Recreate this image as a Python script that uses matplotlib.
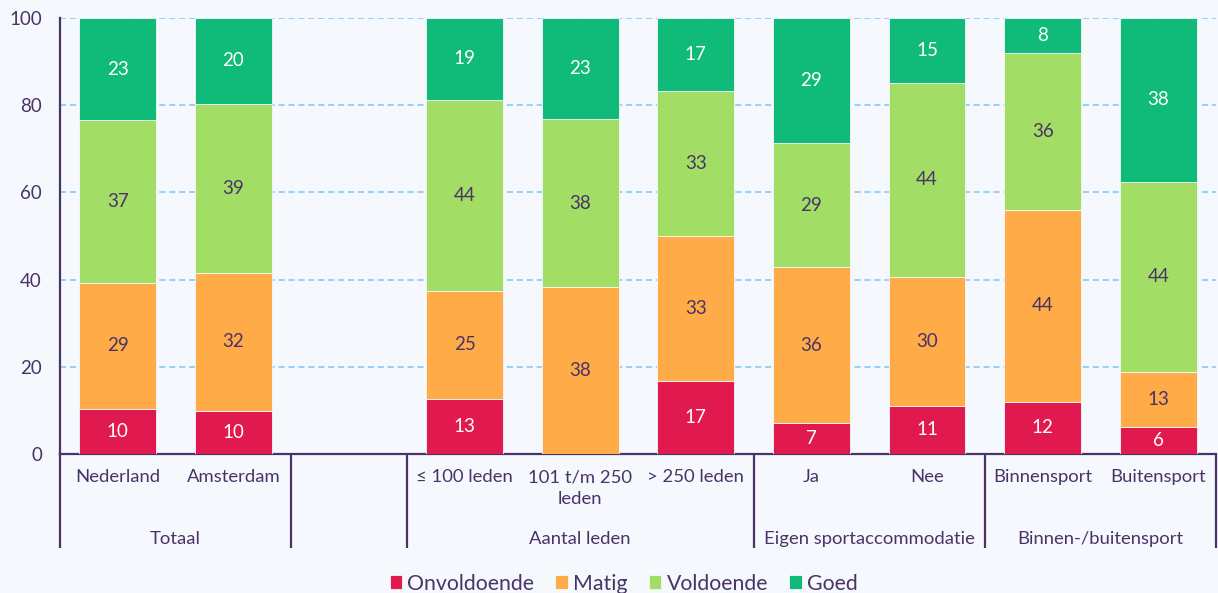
import numpy as np
import matplotlib.pyplot as plt
from matplotlib.transforms import blended_transform_factory

plt.rcParams['font.family'] = ['Lato', 'DejaVu Sans']

# slot labels (empty slot between the groups)
categories = ["Nederland", "Amsterdam", "", "≤ 100 leden", "101 t/m 250\nleden",
              "> 250 leden", "Ja", "Nee", "Binnensport", "Buitensport"]
series = ["Onvoldoende", "Matig", "Voldoende", "Goed"]

onvoldoende = [10.4, 9.9, 0, 12.6, 0.0, 16.7, 7.1, 11.1, 12.0, 6.25]
matig = [28.9, 31.6, 0, 24.8, 38.3, 33.3, 35.7, 29.6, 44.0, 12.6]
voldoende = [37.3, 38.8, 0, 43.8, 38.5, 33.3, 28.6, 44.4, 36.0, 43.65]
goed = [23.4, 19.7, 0, 18.8, 23.2, 16.7, 28.6, 14.8, 8.0, 37.5]

groups = ["Totaal", "", "Aantal leden", "Eigen sportaccommodatie", "Binnen-/buitensport"]
group_spans = [(0, 1), (2, 2), (3, 5), (6, 7), (8, 9)]

colors = ["#e0194f", "#ffab47", "#a2de66", "#10ba78"]
label_colors = ["white", "#4a3366", "#4a3366", "white"]
text_color = "#4a3366"
bg = "#f5f8fd"


def main():
    fig = plt.figure(figsize=(12.18, 5.93), dpi=100, facecolor=bg)
    ax = fig.add_axes([60 / 1218, 139 / 593, 1156 / 1218, 436 / 593], facecolor=bg)

    x = np.arange(len(categories))
    data = [onvoldoende, matig, voldoende, goed]
    bottom = np.zeros(len(categories))
    for vals, name, col, lc in zip(data, series, colors, label_colors):
        vals = np.asarray(vals, dtype=float)
        ax.bar(x, vals, 0.665, bottom=bottom, color=col, label=name,
               edgecolor=bg, linewidth=0.6, zorder=3)
        for xi, v, b in zip(x, vals, bottom):
            if v > 0.5:
                ax.text(xi, b + v / 2, f"{v:.0f}", ha="center", va="center",
                        color=lc, fontsize=13.5, zorder=4)
        bottom += vals

    ax.set_xlim(-0.5, len(categories) - 0.5)
    ax.set_ylim(0, 100)
    ax.set_yticks(range(0, 101, 20))
    ax.yaxis.grid(True, linestyle=(0, (4, 2.5)), color="#80c4f4", linewidth=1.1, zorder=0)
    ax.set_xticks(x)
    ax.set_xticklabels(categories, fontsize=13.3, color=text_color, linespacing=1.45)
    ax.tick_params(axis="x", length=0, pad=11)
    ax.tick_params(axis="y", length=0, pad=13, labelsize=13.5, labelcolor=text_color)
    for s in ["top", "right"]:
        ax.spines[s].set_visible(False)
    ax.spines["left"].set_color(text_color)
    ax.spines["bottom"].set_color(text_color)
    ax.spines["left"].set_linewidth(1.6)
    ax.spines["bottom"].set_linewidth(1.6)

    trans = blended_transform_factory(ax.transData, ax.transAxes)
    seps = [-0.5] + [hi + 0.5 for lo, hi in group_spans]
    for s in seps:
        ax.plot([s, s], [0, -0.216], transform=trans, color=text_color,
                linewidth=1.6, clip_on=False, solid_capstyle="butt")
    for name, (lo, hi) in zip(groups, group_spans):
        ax.text((lo + hi) / 2, -0.195, name, transform=trans, ha="center",
                va="center", fontsize=13.3, color=text_color)

    leg = fig.legend(loc="center", bbox_to_anchor=(0.512, 0.016), ncol=4, frameon=False,
                     fontsize=15.3, handlelength=0.58, handleheight=0.58,
                     handletextpad=0.25, columnspacing=1.0)
    for t in leg.get_texts():
        t.set_color(text_color)

    fig.savefig("out.png", dpi=100, facecolor=bg)
    return 0


if __name__ == "__main__":
    main()
